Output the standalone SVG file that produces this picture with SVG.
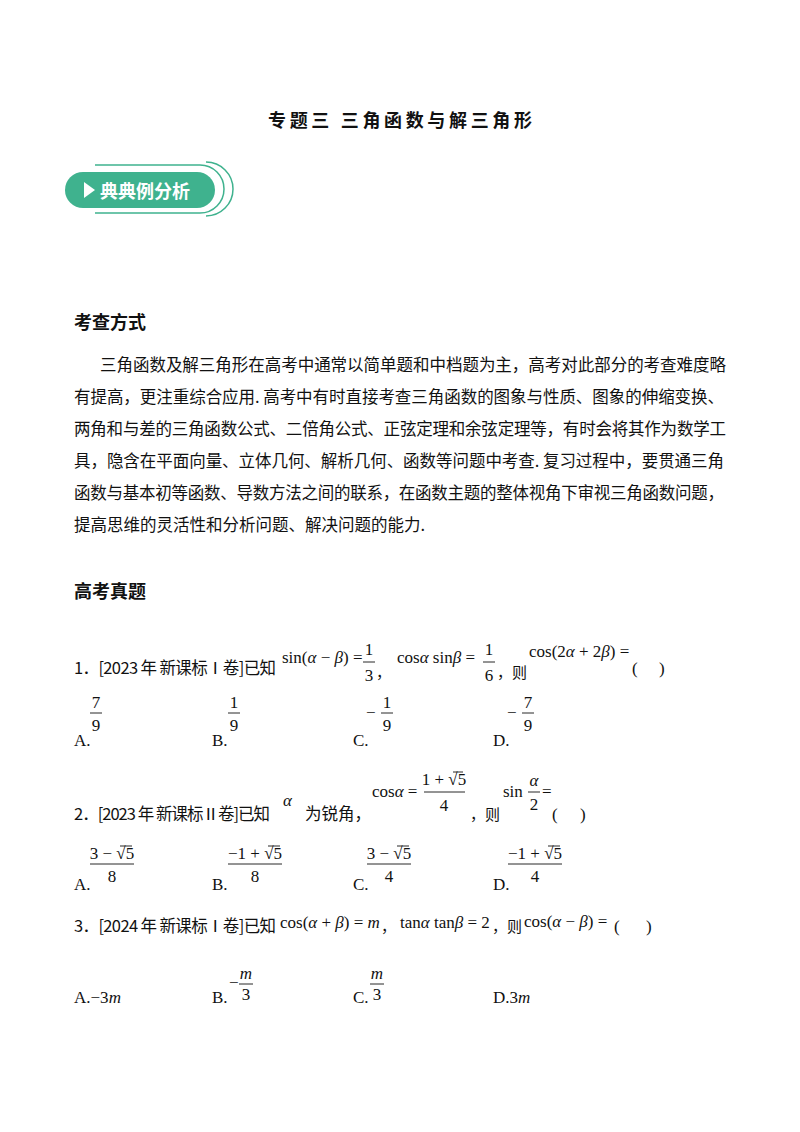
<svg xmlns="http://www.w3.org/2000/svg" width="800" height="1132" viewBox="0 0 800 1132">
<style>
.cn{font-family:"Noto Sans CJK SC","Noto Sans",sans-serif;fill:#111}
.m{font-family:"Liberation Serif",serif;fill:#111;font-size:17px}
.i{font-style:italic}
.h{font-family:"Noto Sans CJK SC",sans-serif;font-weight:bold;fill:#111;font-size:18px}
.p{font-family:"Noto Sans CJK SC",sans-serif;fill:#111;font-size:16.5px}
.bar{stroke:#111;stroke-width:0.9}
</style>
<rect width="800" height="1132" fill="#fff"/>
<g id="title"><text x="268" y="127" class="h" font-size="20" textLength="264">专题三  三角函数与解三角形</text></g>
<g id="banner">
<rect x="65" y="172" width="150" height="36" rx="18" fill="#3fb28e"/>
<path d="M95 165 H200 A24 24 0 0 1 200 213 H95" fill="none" stroke="#3fb28e" stroke-width="1.5"/>
<path d="M206 162 A27 27 0 0 1 206 216" fill="none" stroke="#3fb28e" stroke-width="1.5"/>
<polygon points="84,182 84,198 95,190" fill="#fff"/>
<text x="100" y="198" font-family="Noto Sans CJK SC,sans-serif" font-weight="bold" font-size="18" fill="#fff">典典例分析</text>
</g>
<g id="sec1">
<text x="74" y="329" class="h">考查方式</text>
<text x="100" y="371" class="p" textLength="626">三角函数及解三角形在高考中通常以简单题和中档题为主，高考对此部分的考查难度略</text>
<text x="74" y="403" class="p" textLength="650">有提高，更注重综合应用. 高考中有时直接考查三角函数的图象与性质、图象的伸缩变换、</text>
<text x="74" y="435" class="p" textLength="652">两角和与差的三角函数公式、二倍角公式、正弦定理和余弦定理等，有时会将其作为数学工</text>
<text x="74" y="467" class="p" textLength="650">具，隐含在平面向量、立体几何、解析几何、函数等问题中考查. 复习过程中，要贯通三角</text>
<text x="74" y="499" class="p" textLength="650">函数与基本初等函数、导数方法之间的联系，在函数主题的整体视角下审视三角函数问题，</text>
<text x="74" y="531" class="p">提高思维的灵活性和分析问题、解决问题的能力.</text>
</g>
<g id="sec2"><text x="74" y="598" class="h">高考真题</text></g>
<g id="q1">
<text x="74" y="674" class="p" font-size="15" textLength="202">1．[2023 年  新课标Ⅰ卷]已知</text>
<text x="282" y="663" class="m">sin(<tspan class="i">α</tspan> − <tspan class="i">β</tspan>) =</text>
<text x="369" y="655" class="m" text-anchor="middle">1</text><line x1="363" y1="662" x2="375" y2="662" class="bar"/><text x="369" y="681" class="m" text-anchor="middle">3</text>
<text x="376" y="678" class="cn" font-size="15">，</text>
<text x="397" y="663" class="m">cos<tspan class="i">α</tspan> sin<tspan class="i">β</tspan> =</text>
<text x="489" y="655" class="m" text-anchor="middle">1</text><line x1="483" y1="662" x2="495" y2="662" class="bar"/><text x="489" y="681" class="m" text-anchor="middle">6</text>
<text x="497" y="678" class="cn" font-size="15">，则</text>
<text x="529" y="657" class="m">cos(2<tspan class="i">α</tspan> + 2<tspan class="i">β</tspan>) =</text>
<text x="632" y="674" class="m">(</text><text x="659" y="674" class="m">)</text>
<text x="74" y="746" class="m">A.</text><text x="96" y="708" class="m" text-anchor="middle">7</text><line x1="90" y1="713" x2="102" y2="713" class="bar"/><text x="96" y="731" class="m" text-anchor="middle">9</text>
<text x="212" y="746" class="m">B.</text><text x="234" y="708" class="m" text-anchor="middle">1</text><line x1="228" y1="713" x2="240" y2="713" class="bar"/><text x="234" y="731" class="m" text-anchor="middle">9</text>
<text x="353" y="746" class="m">C.</text><text x="366" y="718" class="m">−</text><text x="387" y="708" class="m" text-anchor="middle">1</text><line x1="381" y1="713" x2="393" y2="713" class="bar"/><text x="387" y="731" class="m" text-anchor="middle">9</text>
<text x="493" y="746" class="m">D.</text><text x="507" y="718" class="m">−</text><text x="528" y="708" class="m" text-anchor="middle">7</text><line x1="522" y1="713" x2="534" y2="713" class="bar"/><text x="528" y="731" class="m" text-anchor="middle">9</text>
</g>
<g id="q2">
<text x="74" y="820" class="p" font-size="15" textLength="196">2．[2023 年  新课标Ⅱ卷]已知</text>
<text x="283" y="806" class="m i">α</text>
<text x="305" y="820" class="p" font-size="15">为锐角，</text>
<text x="372" y="797" class="m">cos<tspan class="i">α</tspan> =</text>
<text x="444" y="785" class="m" text-anchor="middle">1 + √5</text><line x1="453" y1="772" x2="463" y2="772" class="bar"/><line x1="424" y1="792" x2="465" y2="792" class="bar"/><text x="444" y="811" class="m" text-anchor="middle">4</text>
<text x="470" y="820" class="cn" font-size="15">，则</text>
<text x="503" y="797" class="m">sin</text><text x="534" y="786" class="m i" text-anchor="middle">α</text><line x1="528" y1="792" x2="540" y2="792" class="bar"/><text x="534" y="810" class="m" text-anchor="middle">2</text><text x="542" y="797" class="m">=</text>
<text x="552" y="820" class="m">(</text><text x="580" y="820" class="m">)</text>
<text x="74" y="890" class="m">A.</text><text x="112" y="859" class="m" text-anchor="middle">3 − √5</text><line x1="120" y1="846" x2="132" y2="846" class="bar"/><line x1="90" y1="864" x2="134" y2="864" class="bar"/><text x="112" y="882" class="m" text-anchor="middle">8</text>
<text x="212" y="890" class="m">B.</text><text x="255" y="859" class="m" text-anchor="middle">−1 + √5</text><line x1="268" y1="846" x2="280" y2="846" class="bar"/><line x1="228" y1="864" x2="282" y2="864" class="bar"/><text x="255" y="882" class="m" text-anchor="middle">8</text>
<text x="353" y="890" class="m">C.</text><text x="389" y="859" class="m" text-anchor="middle">3 − √5</text><line x1="397" y1="846" x2="409" y2="846" class="bar"/><line x1="367" y1="864" x2="411" y2="864" class="bar"/><text x="389" y="882" class="m" text-anchor="middle">4</text>
<text x="493" y="890" class="m">D.</text><text x="535" y="859" class="m" text-anchor="middle">−1 + √5</text><line x1="548" y1="846" x2="560" y2="846" class="bar"/><line x1="508" y1="864" x2="562" y2="864" class="bar"/><text x="535" y="882" class="m" text-anchor="middle">4</text>
</g>
<g id="q3">
<text x="74" y="932" class="p" font-size="15" textLength="202">3．[2024 年  新课标Ⅰ卷]已知</text>
<text x="280" y="928" class="m">cos(<tspan class="i">α</tspan> + <tspan class="i">β</tspan>) = <tspan class="i">m</tspan></text>
<text x="381" y="932" class="cn" font-size="15">，</text>
<text x="400" y="928" class="m">tan<tspan class="i">α</tspan> tan<tspan class="i">β</tspan> = 2</text>
<text x="492" y="932" class="cn" font-size="15">，则</text>
<text x="524" y="927" class="m">cos(<tspan class="i">α</tspan> − <tspan class="i">β</tspan>) =</text>
<text x="614" y="932" class="m">(</text><text x="646" y="932" class="m">)</text>
<text x="74" y="1003" class="m">A.−3<tspan class="i">m</tspan></text>
<text x="212" y="1003" class="m">B.</text><text x="229" y="988" class="m">−</text><text x="246" y="979" class="m i" text-anchor="middle">m</text><line x1="239" y1="984" x2="253" y2="984" class="bar"/><text x="246" y="1000" class="m" text-anchor="middle">3</text>
<text x="353" y="1003" class="m">C.</text><text x="377" y="979" class="m i" text-anchor="middle">m</text><line x1="370" y1="984" x2="384" y2="984" class="bar"/><text x="377" y="1000" class="m" text-anchor="middle">3</text>
<text x="493" y="1003" class="m">D.3<tspan class="i">m</tspan></text>
</g>
</svg>
